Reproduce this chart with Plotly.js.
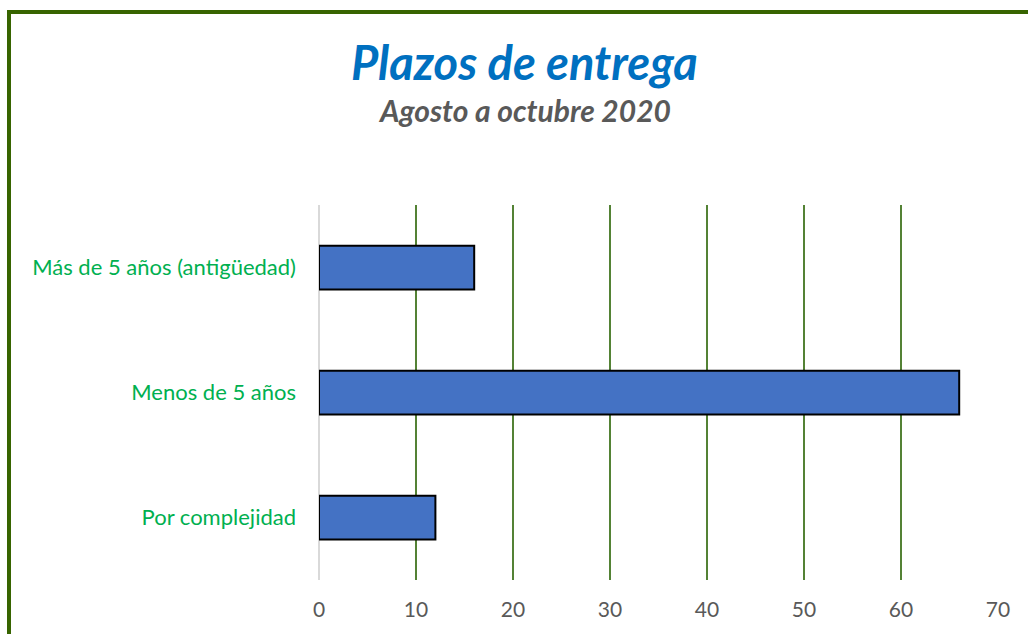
<!DOCTYPE html>
<html>
<head>
<meta charset="utf-8">
<script src="https://cdn.plot.ly/plotly-3.0.1.min.js"></script>
<style>
  body { margin: 0; background: #fff; }
  #chart { width: 1028px; height: 634px; }
  #frame {
    position: absolute; left: 7px; top: 10px; width: 1100px; height: 700px;
    border-top: 4px solid #376400; border-left: 4px solid #376400;
    pointer-events: none;
  }
</style>
</head>
<body>
<div id="chart"></div>
<div id="frame"></div>
<script>
  // categorias (de abajo hacia arriba)
  var categorias = ["Por complejidad", "Menos de 5 años", "Más de 5 años (antigüedad)"];
  var valores = [12, 66, 16];
  var ticksX = [0, 10, 20, 30, 40, 50, 60, 70];

  var data = [{
    type: "bar",
    orientation: "h",
    y: categorias,
    x: valores,
    marker: { color: "#4472c4", line: { color: "#000000", width: 2 } },
    hoverinfo: "x+y"
  }];

  var layout = {
    width: 1028,
    height: 634,
    margin: { t: 205, b: 54, l: 319, r: 30 },
    paper_bgcolor: "#ffffff",
    plot_bgcolor: "#ffffff",
    showlegend: false,
    bargap: 0.65,
    font: { family: "Lato, 'Open Sans', sans-serif" },
    title: {
      text: "<b><i>Plazos de entrega</i></b>",
      font: { size: 47, color: "#0070c0", family: "Lato, 'Open Sans', sans-serif" },
      xref: "container", x: 0.51, xanchor: "center",
      yref: "container", y: 1 - 64 / 634, yanchor: "middle"
    },
    annotations: [{
      text: "<b><i>Agosto a octubre 2020</i></b>",
      xref: "paper", yref: "paper",
      x: (524 - 319) / 679, y: 1 + (205 - 110) / 375,
      xanchor: "center", yanchor: "middle",
      showarrow: false,
      font: { size: 30, color: "#595959" }
    }],
    xaxis: {
      range: [0, 70],
      tickvals: ticksX,
      ticktext: ticksX.map(String),
      showgrid: true,
      gridcolor: "#548235",
      gridwidth: 2,
      zeroline: true,
      zerolinecolor: "#d9d9d9",
      zerolinewidth: 2,
      showline: false,
      ticks: "",
      ticklabelstandoff: 15,
      tickfont: { size: 21, color: "#595959" },
      fixedrange: true
    },
    yaxis: {
      categoryorder: "array",
      categoryarray: categorias,
      showgrid: false,
      zeroline: false,
      showline: false,
      ticks: "",
      ticklabelstandoff: 22,
      tickfont: { size: 22, color: "#00b050" },
      fixedrange: true
    }
  };

  Plotly.newPlot("chart", data, layout, { displayModeBar: false });
</script>
</body>
</html>
